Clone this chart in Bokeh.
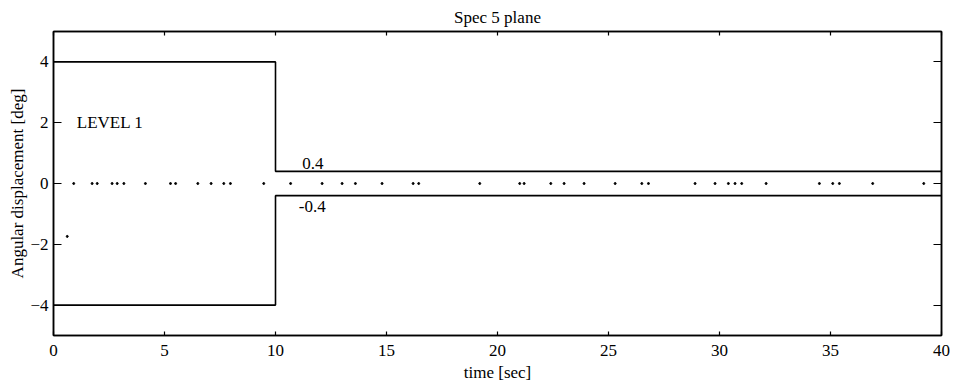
from bokeh.plotting import figure
from bokeh.models import LinearAxis, Range1d, FixedTicker, CustomJSTickFormatter
from bokeh.core.properties import value
from bokeh.embed import file_html
from bokeh.resources import INLINE

# ---- data ----
step_time = [0, 10, 40]
upper_limit = [4, 0.4, 0.4]
lower_limit = [-4, -0.4, -0.4]

dot_time = [0.91, 1.74, 1.97, 2.64, 2.87, 3.17, 4.14, 5.27, 5.5, 6.5, 7.1, 7.67, 7.97,
            9.47, 10.68, 12.1, 13.0, 13.6, 14.8, 16.2, 16.45, 19.2, 21.0, 21.2, 22.4,
            23.0, 23.9, 25.3, 26.5, 26.8, 28.9, 29.8, 30.4, 30.7, 31.0, 32.1, 34.5,
            35.1, 35.4, 36.9, 39.2]
dot_value = [0.0] * len(dot_time)
stray_time = [0.62]
stray_value = [-1.74]

x_ticks = [0, 5, 10, 15, 20, 25, 30, 35, 40]
y_ticks = [-4, -2, 0, 2, 4]

title_text = "Spec 5 plane"
x_label = "time [sec]"
y_label = "Angular displacement [deg]"
level_label = "LEVEL 1"
upper_label = "0.4"
lower_label = "-0.4"

FONT = "Liberation Serif"
FS = "17px"

p = figure(width=953, height=384, output_backend="svg", toolbar_location=None,
           x_range=Range1d(0, 40), y_range=Range1d(-5, 5),
           x_axis_label=x_label, y_axis_label=y_label,
           min_border_left=53, min_border_right=12, min_border_top=31, min_border_bottom=46)

p.title.text = title_text
p.title.align = "center"
p.title.text_font = FONT
p.title.text_font_size = FS
p.title.text_font_style = "normal"
p.title.text_color = "black"
p.title.standoff = 9
p.title.offset = 0

p.grid.visible = False
p.outline_line_color = "black"
p.outline_line_width = 1.5
p.background_fill_color = "white"
p.border_fill_color = "white"

for ax, tk, tin in ((p.xaxis[0], x_ticks, 4), (p.yaxis[0], y_ticks, 8)):
    ax.ticker = FixedTicker(ticks=tk)
    ax.major_tick_in = tin
    ax.major_tick_out = 0
    ax.minor_tick_line_color = None
    ax.axis_line_color = "black"
    ax.axis_line_width = 1.5
    ax.major_tick_line_width = 1.2
    ax.major_label_text_font = FONT
    ax.major_label_text_font_size = FS
    ax.major_label_text_color = "black"
    ax.axis_label_text_font = FONT
    ax.axis_label_text_font_size = FS
    ax.axis_label_text_font_style = "normal"
    ax.axis_label_text_color = "black"
xa = p.xaxis[0]
xa.major_label_standoff = 9
xa.major_label_text_line_height = 0.8
xa.axis_label_text_line_height = 0.8
xa.axis_label_standoff = 4
p.yaxis[0].major_label_standoff = 5
p.yaxis[0].axis_label_standoff = 0

# mirrored axes (ticks only)
right = LinearAxis(ticker=FixedTicker(ticks=y_ticks), formatter=CustomJSTickFormatter(code="return '';"))
top = LinearAxis(ticker=FixedTicker(ticks=x_ticks), formatter=CustomJSTickFormatter(code="return '';"))
for ax, tin in ((right, 8), (top, 4)):
    ax.major_tick_in = tin
    ax.major_tick_out = 0
    ax.minor_tick_line_color = None
    ax.major_label_standoff = 0
    ax.axis_line_color = "black"
    ax.axis_line_width = 1.5
    ax.major_tick_line_width = 1.2
p.add_layout(right, "right")
p.add_layout(top, "above")

# step limits
p.step(step_time, upper_limit, mode="after", line_color="black", line_width=1.6)
p.step(step_time, lower_limit, mode="after", line_color="black", line_width=1.6)

# dots
p.scatter(dot_time, dot_value, size=2, color="black")
p.scatter(stray_time, stray_value, size=2, color="black")

# labels
p.text(x=[1.05], y=[2], text=[level_label], text_font=value(FONT), text_font_size=FS,
       text_baseline="middle", text_align="left", text_color="black")
p.text(x=[11.2], y=[0.66], text=[upper_label], text_font=value(FONT), text_font_size=FS,
       text_baseline="middle", text_align="left", text_color="black")
p.text(x=[11.05], y=[-0.76], text=[lower_label], text_font=value(FONT), text_font_size=FS,
       text_baseline="middle", text_align="left", text_color="black")

open("out.html", "w").write(file_html(p, INLINE))
